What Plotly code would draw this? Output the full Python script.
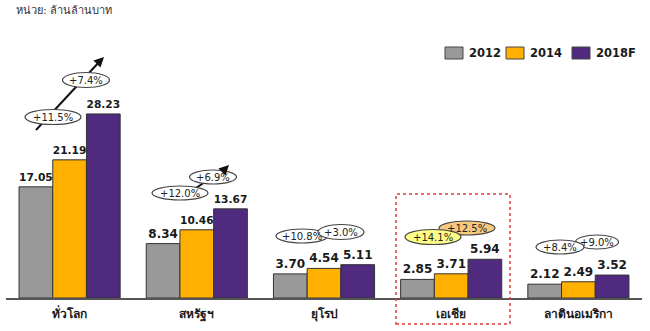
import plotly.graph_objects as go

# ---------------- data ----------------
categories = ["ทั่วโลก", "สหรัฐฯ", "ยุโรป", "เอเชีย", "ลาตินอเมริกา"]
series_names = ["2012", "2014", "2018F"]
values_2012 = [17.05, 8.34, 3.70, 2.85, 2.12]
values_2014 = [21.19, 10.46, 4.54, 3.71, 2.49]
values_2018 = [28.23, 13.67, 5.11, 5.94, 3.52]
growth_12_14 = ["+11.5%", "+12.0%", "+10.8%", "+14.1%", "+8.4%"]
growth_14_18 = ["+7.4%", "+6.9%", "+3.0%", "+12.5%", "+9.0%"]
unit_text = "หน่วย: ล้านล้านบาท"

colors = ["#999999", "#FFB000", "#4F2A7E"]

# ---------------- layout geometry ----------------
W, H = 650, 331
ML, MR, MT, MB = 6, 8, 38, 33
plot_w = W - ML - MR
plot_h = H - MT - MB
PX_PER_UNIT = 6.52
y_max = plot_h / PX_PER_UNIT
n_cat = len(categories)


def dx(px):
    """pixel x -> category-axis coordinate"""
    return (px - ML) / plot_w * n_cat - 0.5


def dy(py):
    """pixel y -> value-axis coordinate"""
    return (H - MB - py) / PX_PER_UNIT


def px_paper_x(px):
    return (px - ML) / plot_w


def px_paper_y(py):
    return (H - MB - py) / plot_h


fig = go.Figure()
for name, vals, col in zip(series_names, [values_2012, values_2014, values_2018], colors):
    fig.add_trace(go.Bar(
        name=name, x=categories, y=vals,
        marker=dict(color=col, line=dict(color="#333333", width=1)),
        texttemplate="%{y:.2f}", textposition="outside",
        textfont=dict(family="DejaVu Sans", size=12, color="#1a1a1a", weight="bold"),
        cliponaxis=False, showlegend=False,
    ))

shapes = []
annotations = []

# arrow lines (drawn under the ellipses)
arrow_lines = [
    (36, 130, 104, 57),
    (190, 192, 229, 165),
]
for x0, y0, x1, y1 in arrow_lines:
    shapes.append(dict(type="line", xref="x", yref="y",
                       x0=dx(x0), y0=dy(y0), x1=dx(x1 - 3), y1=dy(y1 + 3),
                       line=dict(color="#111111", width=2), layer="above"))
    annotations.append(dict(x=dx(x1), y=dy(y1), ax=dx(x1 - 8), ay=dy(y1 + 8),
                            xref="x", yref="y", axref="x", ayref="y",
                            text="", showarrow=True, arrowhead=2, arrowsize=1,
                            arrowwidth=2, arrowcolor="#111111"))

# ellipse labels: (text, cx, cy, w, h, fill), in draw order
ellipses = [
    (growth_12_14[0], 53, 117, 56, 15, "white"),
    (growth_14_18[0], 86, 80, 47, 15, "white"),
    (growth_12_14[1], 180, 193, 56, 14, "white"),
    (growth_14_18[1], 213, 177, 47, 14, "white"),
    (growth_12_14[2], 302, 236, 52, 14, "white"),
    (growth_14_18[2], 341, 232, 46, 15, "white"),
    (growth_14_18[3], 467, 228, 56, 14, "#F7C97F"),
    (growth_12_14[3], 433, 237, 56, 15, "#FFFF88"),
    (growth_14_18[4], 597, 242, 43, 14, "white"),
    (growth_12_14[4], 560, 247, 48, 14, "white"),
]
for txt, cx, cy, w, h, fill in ellipses:
    shapes.append(dict(type="circle", xref="x", yref="y",
                       x0=dx(cx - w / 2), x1=dx(cx + w / 2),
                       y0=dy(cy + h / 2), y1=dy(cy - h / 2),
                       fillcolor=fill, line=dict(color="#444444", width=1.2),
                       layer="above"))
for txt, cx, cy, w, h, fill in ellipses:
    annotations.append(dict(x=dx(cx), y=dy(cy), xref="x", yref="y", text=txt,
                            showarrow=False,
                            font=dict(family="DejaVu Sans", size=10, color="#222222")))

# red dotted highlight box around Asia
shapes.append(dict(type="rect", xref="x", yref="paper",
                   x0=dx(396), x1=dx(510),
                   y0=px_paper_y(324), y1=px_paper_y(194),
                   line=dict(color="#E03A3A", width=1.5, dash="dot"),
                   fillcolor="rgba(0,0,0,0)", layer="above"))

# legend (drawn manually to match the compact key layout)
legend_pos = [445, 506, 572]
for name, col, lx in zip(series_names, colors, legend_pos):
    shapes.append(dict(type="rect", xref="paper", yref="paper",
                       x0=px_paper_x(lx), x1=px_paper_x(lx + 18),
                       y0=px_paper_y(59), y1=px_paper_y(47),
                       fillcolor=col, line=dict(color="#444444", width=1),
                       layer="above"))
    annotations.append(dict(x=px_paper_x(lx + 22), y=px_paper_y(53),
                            xref="paper", yref="paper", xanchor="left",
                            yanchor="middle", text=name, showarrow=False,
                            font=dict(family="DejaVu Sans", size=11.5,
                                      color="#1a1a1a", weight="bold")))

fig.update_layout(
    width=W, height=H,
    margin=dict(l=ML, r=MR, t=MT, b=MB, pad=0, autoexpand=False),
    paper_bgcolor="white", plot_bgcolor="white",
    barmode="group", bargap=0.205, bargroupgap=0,
    showlegend=False,
    font=dict(family="DejaVu Sans", color="#1a1a1a"),
    title=dict(text=unit_text, x=16 / W, xanchor="left", xref="container",
               y=1 - 10 / H, yanchor="middle", yref="container",
               font=dict(size=11, color="#333333")),
    xaxis=dict(showline=True, linecolor="#555555", linewidth=1.5,
               ticks="", showgrid=False, zeroline=False, automargin=False,
               tickfont=dict(size=12, color="#1a1a1a", weight="bold"),
               ticklabelstandoff=4),
    yaxis=dict(range=[0, y_max], visible=False, showgrid=False, zeroline=False),
    shapes=shapes, annotations=annotations,
)

fig.write_html("out.html")
